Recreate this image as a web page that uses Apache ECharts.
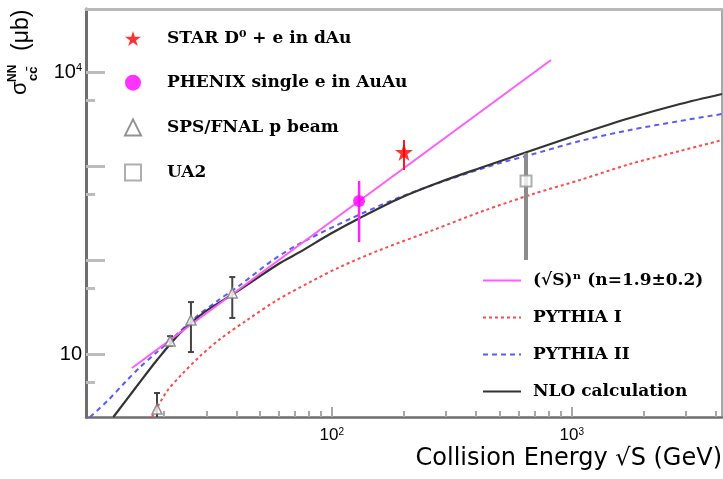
<!DOCTYPE html>
<html><head><meta charset="utf-8">
<script src="https://cdn.jsdelivr.net/npm/echarts@6/dist/echarts.min.js"></script>
<style>html,body{margin:0;padding:0;background:#fff}#c{width:723px;height:479px}</style>
</head><body><div id="c"></div>
<script>
// ---- data (GeV, microbarn) ----
const nloE   = [12.3, 15.2, 18.7, 23.3, 29.1, 38.8, 60.9, 73.8, 98.4, 131, 193, 283, 415, 670, 1083, 1750, 2827, 4229];
const nloS   = [2.14, 4.35, 8.64, 16.7, 27.3, 43.5, 92.9, 122, 189, 280, 457, 676, 952, 1444, 2190, 3241, 4566, 5834];
const py2E   = [9.84, 11.6, 13.8, 15.9, 18.7, 22.2, 26.9, 33.3, 41.5, 56.9, 73.8, 119, 193, 311, 503, 670, 1083, 1750, 2827, 4229];
const py2S   = [2.14, 3.16, 5.04, 7.27, 10.5, 15.5, 24.2, 36.6, 54.2, 100, 150, 273, 468, 727, 1076, 1309, 1845, 2415, 3011, 3574];
const py1E   = [17.8, 20.6, 23.8, 28.3, 34.2, 44.4, 59.2, 81.2, 108, 159, 264, 427, 690, 1083, 1750, 2827, 4229];
const py1S   = [2.14, 4.04, 6.13, 9.52, 14.4, 23.0, 37.5, 58.3, 84.2, 128, 208, 332, 504, 710, 1050, 1444, 1890];
const powE   = [14.7, 820];
const powS   = [7.10, 13420];

const starE = [200],  starS = [1409],  starLo = [906],  starHi = [1890];
const phenE = [130],  phenS = [425],   phenLo = [155],  phenHi = [692];
const spsE  = [18.7, 21.2, 25.9, 38.5], spsS = [2.6, 13.8, 23.0, 44.6];
const spsLo = [1.5, 12.3, 10.5, 24.2],  spsHi = [3.85, 15.5, 35.7, 65.9];
const ua2E  = [645],  ua2S = [692],    ua2Lo = [100],   ua2Hi = [1374];

const xMajor = [100, 1000];
const xMinor = [20,30,40,50,60,70,80,90,200,300,400,500,600,700,800,900,2000,3000,4000];
const yMajor = [10, 100, 1000, 10000];
const yMinor = [5, 50, 500, 5000];
const yLabels = [10, 10000];

const names = {
  star: 'STAR D⁰ + e in dAu', phen: 'PHENIX single e in AuAu', sps: 'SPS/FNAL p beam', ua2: 'UA2',
  pow: '(√S)ⁿ (n=1.9±0.2)', py1: 'PYTHIA I', py2: 'PYTHIA II', nlo: 'NLO calculation'
};

const pair = (a, b) => a.map((v, i) => [v, b[i]]);
const tri = (a, lo, hi) => a.map((v, i) => [v, lo[i], hi[i]]);
const X0 = 9.46, X1 = 4230, Y0 = 2.14, Y1 = 46770;

function errRender(color, width, cap) {
  return function (params, api) {
    const x = api.value(0), lo = api.value(1), hi = api.value(2);
    const a = api.coord([x, hi]), b = api.coord([x, lo]);
    const st = { stroke: color, lineWidth: width };
    const ch = [{ type: 'line', shape: { x1: a[0], y1: a[1], x2: b[0], y2: b[1] }, style: st }];
    if (cap) {
      ch.push({ type: 'line', shape: { x1: a[0] - cap, y1: a[1], x2: a[0] + cap, y2: a[1] }, style: st });
      ch.push({ type: 'line', shape: { x1: b[0] - cap, y1: b[1], x2: b[0] + cap, y2: b[1] }, style: st });
    }
    return { type: 'group', children: ch };
  };
}
function powLabel(v) {
  const e = Math.round(Math.log10(v));
  return e === 1 ? '{b|10}' : '{b|10}{s|' + e + '}';
}

const starPath = 'path://M50,0 L61,35 L98,35 L68,57 L79,91 L50,70 L21,91 L32,57 L2,35 L39,35 Z';
const serif = { fontFamily: 'DejaVu Serif', fontSize: 17, fontWeight: 'bold', color: '#000' };

const chart = echarts.init(document.getElementById('c'));
chart.setOption({
  animation: false,
  backgroundColor: '#fff',
  grid: { left: 86, top: 9, width: 636, height: 408, containLabel: false },
  xAxis: [
    { type: 'log', min: X0, max: X1, position: 'bottom', offset: 0,
      axisLine: { show: true, lineStyle: { color: '#6e6e6e', width: 2.5 } },
      axisTick: { show: true, inside: true, length: 10, customValues: xMajor, lineStyle: { color: '#a8a8a8', width: 2 } },
      axisLabel: { customValues: xMajor, formatter: powLabel, margin: 10,
        rich: { b: { fontSize: 17, fontFamily: 'Liberation Sans', color: '#000' },
                s: { fontSize: 10, fontFamily: 'Liberation Sans', color: '#000', verticalAlign: 'top', padding: [0, 0, 6, 0] } } },
      splitLine: { show: false }, minorTick: { show: false } },
    { type: 'log', min: X0, max: X1, position: 'bottom', offset: 0,
      axisLine: { show: false },
      axisTick: { show: true, inside: true, length: 6, customValues: xMinor, lineStyle: { color: '#a8a8a8', width: 2 } },
      axisLabel: { show: false }, splitLine: { show: false } },
    { type: 'log', min: X0, max: X1, position: 'top', offset: 0,
      axisLine: { show: true, lineStyle: { color: '#b8b8b8', width: 3 } },
      axisTick: { show: false }, axisLabel: { show: false }, splitLine: { show: false } }
  ],
  yAxis: [
    { type: 'log', min: Y0, max: Y1, position: 'left', offset: 0,
      axisLine: { show: true, lineStyle: { color: '#6e6e6e', width: 3 } },
      axisTick: { show: true, inside: true, length: 19, customValues: yMajor, lineStyle: { color: '#bcbcbc', width: 3 } },
      axisLabel: { customValues: yLabels, formatter: powLabel, margin: 4,
        rich: { b: { fontSize: 20, fontFamily: 'Liberation Sans', color: '#000' },
                s: { fontSize: 11, fontFamily: 'Liberation Sans', color: '#000', verticalAlign: 'top', padding: [0, 0, 8, 0] } } },
      splitLine: { show: false }, minorTick: { show: false } },
    { type: 'log', min: Y0, max: Y1, position: 'left', offset: 0,
      axisLine: { show: false },
      axisTick: { show: true, inside: true, length: 9, customValues: yMinor, lineStyle: { color: '#bcbcbc', width: 3 } },
      axisLabel: { show: false }, splitLine: { show: false } },
    { type: 'log', min: Y0, max: Y1, position: 'right', offset: 0,
      axisLine: { show: true, lineStyle: { color: '#a8a8a8', width: 2 } },
      axisTick: { show: false }, axisLabel: { show: false }, splitLine: { show: false } }
  ],
  legend: [
    { orient: 'vertical', left: 124, top: 30, padding: 0, itemWidth: 16, itemHeight: 16, itemGap: 27.2,
      selectedMode: false, data: [names.star, names.phen, names.sps, names.ua2],
      textStyle: Object.assign({ padding: [0, 0, 0, 21], lineHeight: 16 }, serif) },
    { orient: 'vertical', left: 482, top: 272, padding: 0, itemWidth: 38, itemHeight: 16, itemGap: 20,
      selectedMode: false, data: [names.pow, names.py1, names.py2, names.nlo],
      itemStyle: { color: 'rgba(0,0,0,0)', borderWidth: 0, opacity: 0 },
      textStyle: Object.assign({ padding: [0, 0, 0, 7], lineHeight: 16 }, serif) }
  ],
  graphic: [
    { type: 'text', right: 1, top: 447,
      style: { text: 'Collision Energy √S (GeV)', font: '24px "DejaVu Sans"', fill: '#000' } },
    { type: 'group', x: 0, y: 95, rotation: Math.PI / 2, children: [
      { type: 'text', x: 0, y: 20, style: { text: 'σ', font: '22px "Liberation Sans"', fill: '#000', align: 'left', verticalAlign: 'middle' } },
      { type: 'text', x: 13, y: 13, style: { text: 'NN', font: 'bold 12px "Liberation Sans"', fill: '#000', align: 'left', verticalAlign: 'middle' } },
      { type: 'text', x: 14, y: 33, style: { text: 'cc̄', font: 'bold 13px "Liberation Sans"', fill: '#000', align: 'left', verticalAlign: 'middle' } },
      { type: 'text', x: 44, y: 22, style: { text: '(μb)', font: '23px "Liberation Sans"', fill: '#000', align: 'left', verticalAlign: 'middle' } }
    ] }
  ],
  series: [
    { name: names.py1, type: 'line', data: pair(py1E, py1S), symbol: 'none', smooth: 0.3, clip: true,
      lineStyle: { color: '#ff4a4a', width: 2, type: [3, 3] }, itemStyle: { color: '#ff4a4a' }, z: 2 },
    { name: names.py2, type: 'line', data: pair(py2E, py2S), symbol: 'none', smooth: 0.3, clip: true,
      lineStyle: { color: '#5a5aff', width: 2, type: [5, 4] }, itemStyle: { color: '#5a5aff' }, z: 2 },
    { name: names.nlo, type: 'line', data: pair(nloE, nloS), symbol: 'none', smooth: 0.3, clip: true,
      lineStyle: { color: '#333333', width: 2.2 }, itemStyle: { color: '#333333' }, z: 3 },
    { name: names.pow, type: 'line', data: pair(powE, powS), symbol: 'none', clip: true,
      lineStyle: { color: '#ff5cff', width: 2 }, itemStyle: { color: '#ff5cff' }, z: 4 },
    { name: 'starErr', type: 'custom', data: tri(starE, starLo, starHi), renderItem: errRender('#ff1a1a', 2, 0), clip: true, z: 5, encode: { x: 0, y: [1, 2] } },
    { name: 'phenErr', type: 'custom', data: tri(phenE, phenLo, phenHi), renderItem: errRender('#ff22ff', 2.5, 0), clip: true, z: 5, encode: { x: 0, y: [1, 2] } },
    { name: 'spsErr', type: 'custom', data: tri(spsE, spsLo, spsHi), renderItem: errRender('#444444', 2, 3), clip: true, z: 5, encode: { x: 0, y: [1, 2] } },
    { name: 'ua2Err', type: 'custom', data: tri(ua2E, ua2Lo, ua2Hi), renderItem: errRender('#8c8c8c', 4, 0), clip: true, z: 5, encode: { x: 0, y: [1, 2] } },
    { name: names.star, type: 'scatter', data: pair(starE, starS), symbol: starPath, symbolSize: 18,
      itemStyle: { color: '#ff0000' }, z: 6 },
    { name: names.phen, type: 'scatter', data: pair(phenE, phenS), symbol: 'circle', symbolSize: 12,
      itemStyle: { color: '#ff00ff' }, z: 6 },
    { name: names.sps, type: 'scatter', data: pair(spsE, spsS), symbol: 'triangle', symbolSize: 10,
      itemStyle: { color: '#ffffff', borderColor: '#777777', borderWidth: 1.5 }, z: 6 },
    { name: names.ua2, type: 'scatter', data: pair(ua2E, ua2S), symbol: 'rect', symbolSize: 11,
      itemStyle: { color: '#ffffff', borderColor: '#9a9a9a', borderWidth: 2 }, z: 6 }
  ]
});
</script></body></html>
